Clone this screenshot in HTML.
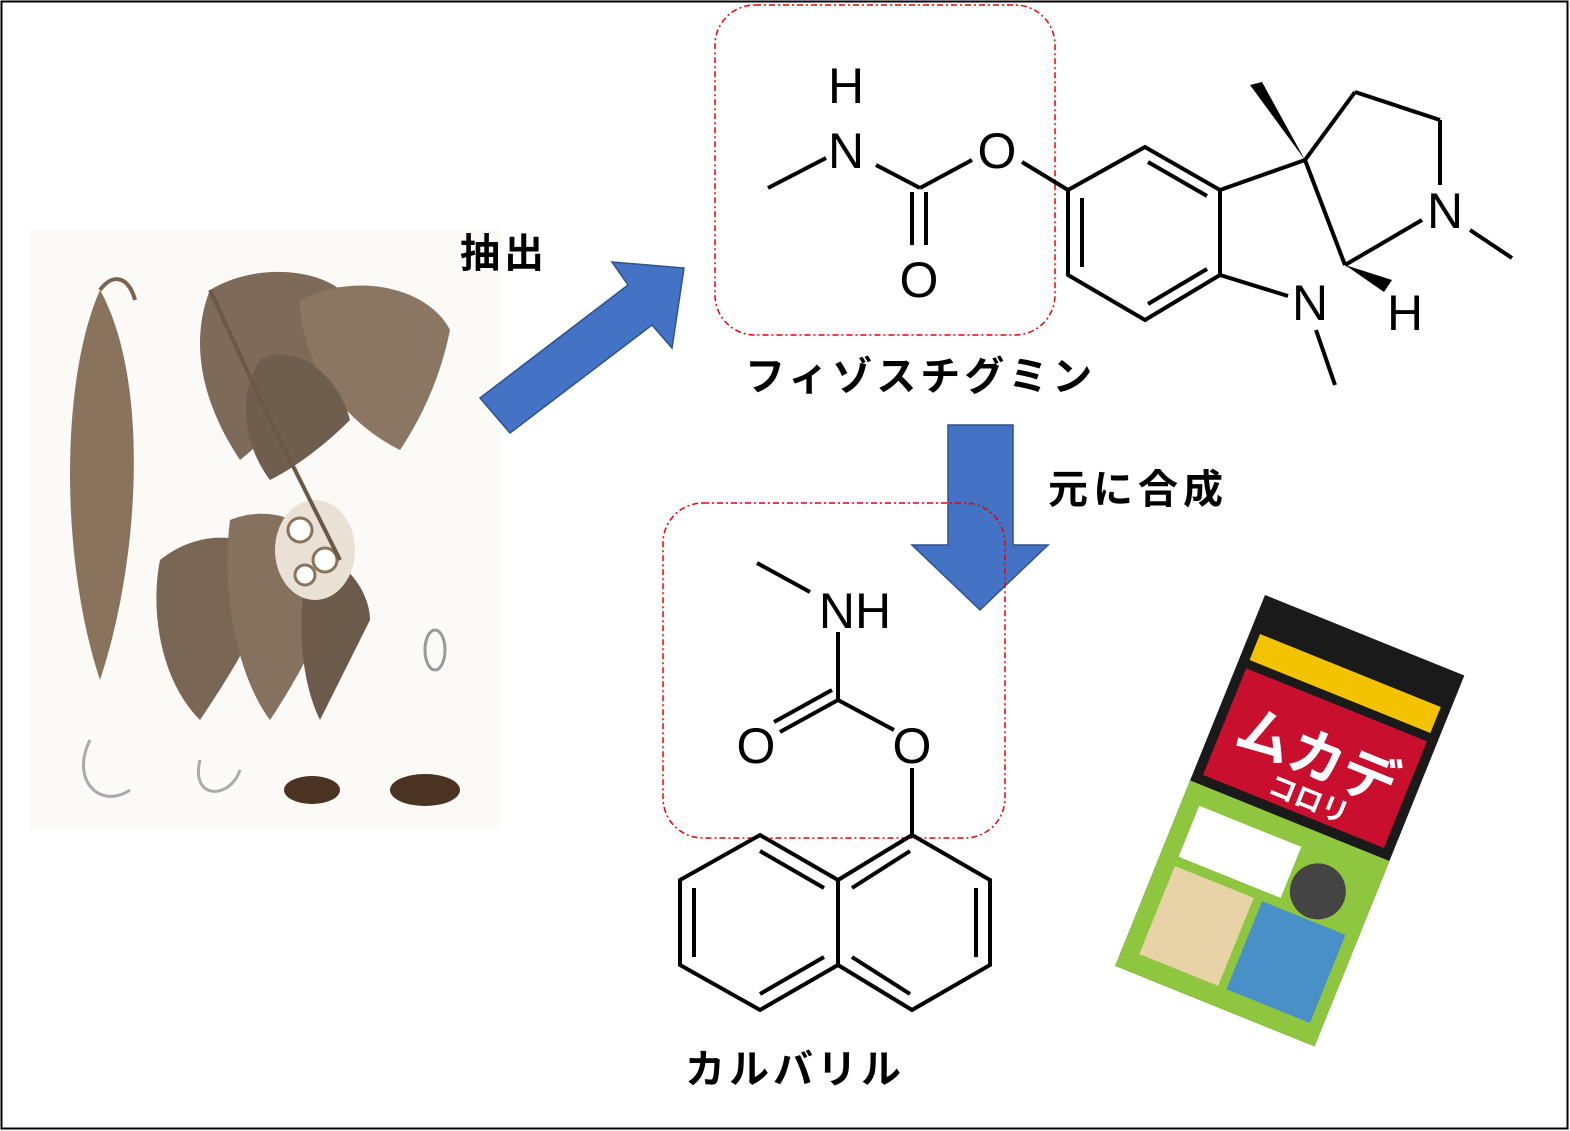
<!DOCTYPE html>
<html><head><meta charset="utf-8"><style>
html,body{margin:0;padding:0;background:#fff}
svg{display:block}
text{font-family:"Liberation Sans","Noto Sans CJK JP",sans-serif}
</style></head><body>
<svg width="1570" height="1131" viewBox="0 0 1570 1131" xmlns="http://www.w3.org/2000/svg">
<rect x="1.5" y="1.5" width="1566" height="1127" fill="#fff" stroke="#000" stroke-width="2"/>

<!-- plant illustration (approx) -->
<g>
<rect x="30" y="230" width="470" height="600" fill="#fbfaf7"/>
<path d="M100 290 C60 380 60 560 100 680 C140 560 150 380 100 290Z" fill="#8a735d"/>
<path d="M100 290 C115 270 130 280 135 300" stroke="#7a6450" stroke-width="4" fill="none"/>
<path d="M210 290 C260 260 330 270 350 300 C330 360 290 420 240 460 C200 400 190 340 210 290Z" fill="#7d6a58"/>
<path d="M300 300 C360 270 430 290 450 330 C440 380 420 420 400 450 C340 420 300 360 300 300Z" fill="#8b7663"/>
<path d="M260 360 C300 340 340 380 350 420 C320 450 290 470 270 480 C240 440 240 390 260 360Z" fill="#6f5d4d"/>
<path d="M160 560 C210 520 270 540 280 570 C260 630 220 690 200 720 C160 680 150 610 160 560Z" fill="#7a6654"/>
<path d="M230 520 C280 500 330 530 340 580 C320 640 290 690 270 720 C240 680 220 600 230 520Z" fill="#86715e"/>
<path d="M310 560 C340 550 370 590 370 620 C350 660 330 700 320 720 C300 680 295 610 310 560Z" fill="#6c5a4b"/>
<ellipse cx="315" cy="550" rx="40" ry="50" fill="#e9e1d6"/>
<circle cx="300" cy="530" r="12" fill="#fff" stroke="#8a735d" stroke-width="3"/>
<circle cx="325" cy="560" r="12" fill="#fff" stroke="#8a735d" stroke-width="3"/>
<circle cx="305" cy="575" r="10" fill="#fff" stroke="#8a735d" stroke-width="3"/>
<path d="M210 290 L270 420 L340 560" stroke="#6b5846" stroke-width="4" fill="none"/>
<ellipse cx="312" cy="790" rx="28" ry="14" fill="#4a3322"/>
<ellipse cx="425" cy="790" rx="35" ry="16" fill="#4a3322"/>
<path d="M90 740 C70 780 100 810 130 790" stroke="#aaa" stroke-width="3" fill="none"/>
<path d="M200 760 C190 800 230 800 240 770" stroke="#aaa" stroke-width="3" fill="none"/>
<ellipse cx="435" cy="650" rx="10" ry="20" fill="none" stroke="#999" stroke-width="3"/>
</g>

<!-- arrows -->
<polygon points="480,398 628,285 612,262 684,268 672,348 652,325 510,433" fill="#4472c4" stroke="#2f528f" stroke-width="1.5"/>
<polygon points="948,425 1013,425 1013,545 1048,545 980,610 912,545 948,545" fill="#4472c4" stroke="#2f528f" stroke-width="1.5"/>

<text x="460" y="267" font-size="40" font-weight="bold" letter-spacing="4">抽出</text>
<text x="1048" y="503" font-size="40" font-weight="bold" letter-spacing="5">元に合成</text>
<text x="745" y="390" font-size="40" font-weight="bold" letter-spacing="4">フィゾスチグミン</text>
<text x="685" y="1083" font-size="40" font-weight="bold" letter-spacing="4">カルバリル</text>

<!-- dashed boxes -->
<rect x="715" y="5" width="340" height="330" rx="40" fill="none" stroke="#e00" stroke-width="1.5" stroke-dasharray="6,3,2,3"/>
<rect x="663" y="503" width="342" height="335" rx="40" fill="none" stroke="#e00" stroke-width="1.5" stroke-dasharray="6,3,2,3"/>

<!-- physostigmine -->
<g stroke="#000" stroke-width="4" fill="none">
<line x1="768" y1="188" x2="826" y2="158"/>
<line x1="876" y1="165" x2="920" y2="188"/>
<line x1="920" y1="188" x2="972" y2="160"/>
<line x1="912" y1="192" x2="912" y2="245"/>
<line x1="926" y1="192" x2="926" y2="245"/>
<line x1="1022" y1="162" x2="1068" y2="190"/>
<polygon points="1068,190 1145,147 1220,190 1220,275 1145,320 1068,275"/>
<line x1="1148" y1="162" x2="1207" y2="196"/>
<line x1="1207" y1="269" x2="1148" y2="304"/>
<line x1="1082" y1="198" x2="1082" y2="267"/>
<line x1="1220" y1="190" x2="1305" y2="160"/>
<line x1="1305" y1="160" x2="1345" y2="265"/>
<line x1="1220" y1="275" x2="1288" y2="296"/>
<line x1="1305" y1="160" x2="1355" y2="92"/>
<line x1="1355" y1="92" x2="1440" y2="120"/>
<line x1="1440" y1="120" x2="1440" y2="185"/>
<line x1="1422" y1="220" x2="1345" y2="265"/>
<line x1="1470" y1="230" x2="1512" y2="258"/>
<line x1="1316" y1="330" x2="1335" y2="385"/>
</g>
<polygon points="1305,160 1250,85 1262,82" fill="#000"/>
<polygon points="1345,265 1392,280 1384,292" fill="#000"/>
<g font-size="50" text-anchor="middle">
<text x="846" y="103">H</text>
<text x="846" y="168">N</text>
<text x="997" y="168">O</text>
<text x="919" y="297">O</text>
<text x="1445" y="228">N</text>
<text x="1310" y="320">N</text>
<text x="1405" y="330">H</text>
</g>

<!-- carbaryl -->
<g stroke="#000" stroke-width="4" fill="none">
<line x1="757" y1="563" x2="810" y2="592"/>
<line x1="838" y1="632" x2="838" y2="700"/>
<line x1="838" y1="700" x2="894" y2="730"/>
<line x1="838" y1="700" x2="780" y2="732"/>
<line x1="832" y1="690" x2="774" y2="722"/>
<line x1="912" y1="768" x2="912" y2="835"/>
<polygon points="912,835 990,880 990,965 912,1010 838,965 838,880"/>
<polyline points="838,880 760,835 680,880 680,965 760,1010 838,965"/>
<line x1="976" y1="888" x2="976" y2="957"/>
<line x1="852" y1="957" x2="910" y2="994"/>
<line x1="852" y1="888" x2="910" y2="851"/>
<line x1="694" y1="888" x2="694" y2="957"/>
<line x1="760" y1="851" x2="824" y2="888"/>
<line x1="760" y1="994" x2="824" y2="957"/>
</g>
<g font-size="50" text-anchor="middle">
<text x="855" y="628">NH</text>
<text x="756" y="763">O</text>
<text x="912" y="763">O</text>
</g>

<!-- product box (approx) -->
<g transform="translate(1265,595) rotate(22)">
<rect x="0" y="0" width="215" height="400" fill="#1a1a1a"/>
<rect x="10" y="75" width="195" height="115" fill="#c8102e"/>
<text x="25" y="150" font-size="56" font-weight="bold" fill="#fff">ムカデ</text>
<text x="75" y="183" font-size="28" font-weight="bold" fill="#fff">コロリ</text>
<rect x="10" y="38" width="195" height="28" fill="#f3c300"/>
<rect x="0" y="200" width="215" height="200" fill="#8ec63f"/>
<rect x="18" y="220" width="110" height="55" fill="#fff"/>
<rect x="18" y="285" width="85" height="95" fill="#e8d2a8"/>
<rect x="112" y="285" width="90" height="95" fill="#4a90c8"/>
<circle cx="160" cy="255" r="28" fill="#444"/>
</g>
</svg>
</body></html>
